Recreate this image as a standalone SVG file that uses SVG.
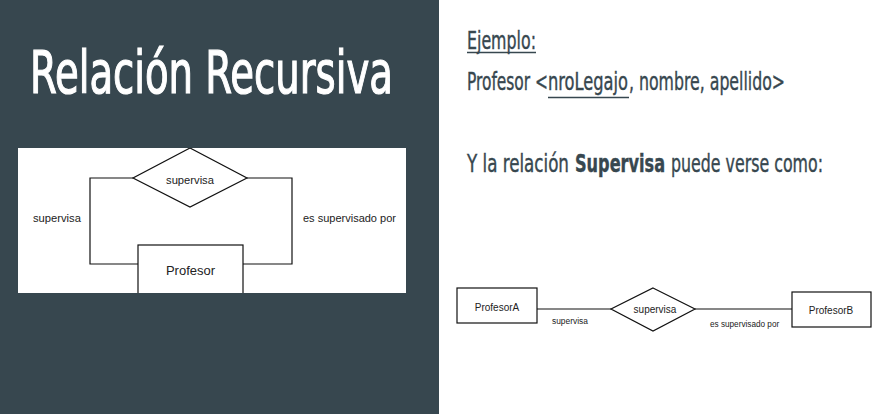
<svg xmlns="http://www.w3.org/2000/svg" width="887" height="414" viewBox="0 0 887 414">
<style>
.cond{font-family:"Liberation Sans Narrow","DejaVu Sans Condensed","DejaVu Sans",sans-serif;font-stretch:condensed;}
.er{font-family:"Liberation Sans",Arial,sans-serif;fill:#222;}
.shape{fill:#fff;stroke:#111;stroke-width:1.2;}
.conn{fill:none;stroke:#111;stroke-width:1.2;}
.hd{fill:#37474f;font-size:25px;stroke:#37474f;stroke-width:0.4;}
.ul{stroke:#37474f;stroke-width:1.5;}
</style>
<rect x="0" y="0" width="887" height="414" fill="#fff"/>
<rect x="0" y="0" width="439" height="414" fill="#37474f"/>
<text class="cond" transform="translate(30,93) scale(0.72,1)" x="0" y="0" font-size="59" fill="#fff" stroke="#fff" stroke-width="1.2" textLength="504" lengthAdjust="spacingAndGlyphs">Relación Recursiva</text>

<!-- left diagram -->
<rect x="18" y="148" width="388" height="145" fill="#fff"/>
<svg x="18" y="148" width="388" height="145" viewBox="18 148 388 145" overflow="hidden">
<g id="connectors-left">
<polyline class="conn" points="133,178 90,178 90,264 138,264"/>
<polyline class="conn" points="247,178 292,178 292,264 243,264"/>
</g>
<g id="rel-supervisa-left">
<polygon class="shape" points="190,148 247,178 190,207 133,178"/>
<text class="er" x="190" y="184" font-size="11.2" text-anchor="middle">supervisa</text>
</g>
<g id="ent-profesor">
<rect class="shape" x="138" y="245" width="105" height="52"/>
<text class="er" x="190.5" y="275" font-size="13" text-anchor="middle">Profesor</text>
</g>
<text class="er" x="33" y="222" font-size="11.2">supervisa</text>
<text class="er" x="303" y="222" font-size="11">es supervisado por</text>
</svg>

<!-- right text -->
<text class="cond hd" transform="translate(467,49) scale(0.66,1)" font-size="23" textLength="104.5" lengthAdjust="spacingAndGlyphs">Ejemplo:</text>
<line class="ul" x1="467" y1="52.5" x2="536" y2="52.5"/>
<text class="cond hd" transform="translate(467,90) scale(0.66,1)" textLength="122.7" lengthAdjust="spacingAndGlyphs">Profesor &lt;</text>
<text class="cond hd" transform="translate(548,90) scale(0.66,1)" textLength="121.2" lengthAdjust="spacingAndGlyphs">nroLegajo</text>
<line class="ul" x1="548" y1="97.5" x2="629" y2="97.5"/>
<text class="cond hd" transform="translate(629,90) scale(0.66,1)" textLength="236.4" lengthAdjust="spacingAndGlyphs">, nombre, apellido&gt;</text>
<text class="cond hd" transform="translate(467,172) scale(0.66,1)" textLength="154.5" lengthAdjust="spacingAndGlyphs">Y la relación</text>
<text class="cond hd" transform="translate(575,172) scale(0.66,1)" font-weight="bold" textLength="136.4" lengthAdjust="spacingAndGlyphs">Supervisa</text>
<text class="cond hd" transform="translate(671,172) scale(0.66,1)" textLength="230.3" lengthAdjust="spacingAndGlyphs">puede verse como:</text>

<!-- bottom diagram -->
<g id="connectors-bottom">
<line class="conn" x1="537" y1="309" x2="611" y2="309"/>
<line class="conn" x1="695" y1="309" x2="792" y2="309"/>
</g>
<g id="ent-profesorA">
<rect class="shape" x="457" y="288" width="80" height="35"/>
<text class="er" x="497" y="311" font-size="10" text-anchor="middle">ProfesorA</text>
</g>
<g id="rel-supervisa-bottom">
<polygon class="shape" points="653,288 695,309 653,331 611,309"/>
<text class="er" x="655" y="313" font-size="10" text-anchor="middle">supervisa</text>
</g>
<g id="ent-profesorB">
<rect class="shape" x="792" y="292" width="79" height="35"/>
<text class="er" x="831" y="314" font-size="10" text-anchor="middle">ProfesorB</text>
</g>
<text class="er" x="552" y="324" font-size="8.4">supervisa</text>
<text class="er" x="710" y="327" font-size="8.2">es supervisado por</text>
</svg>
